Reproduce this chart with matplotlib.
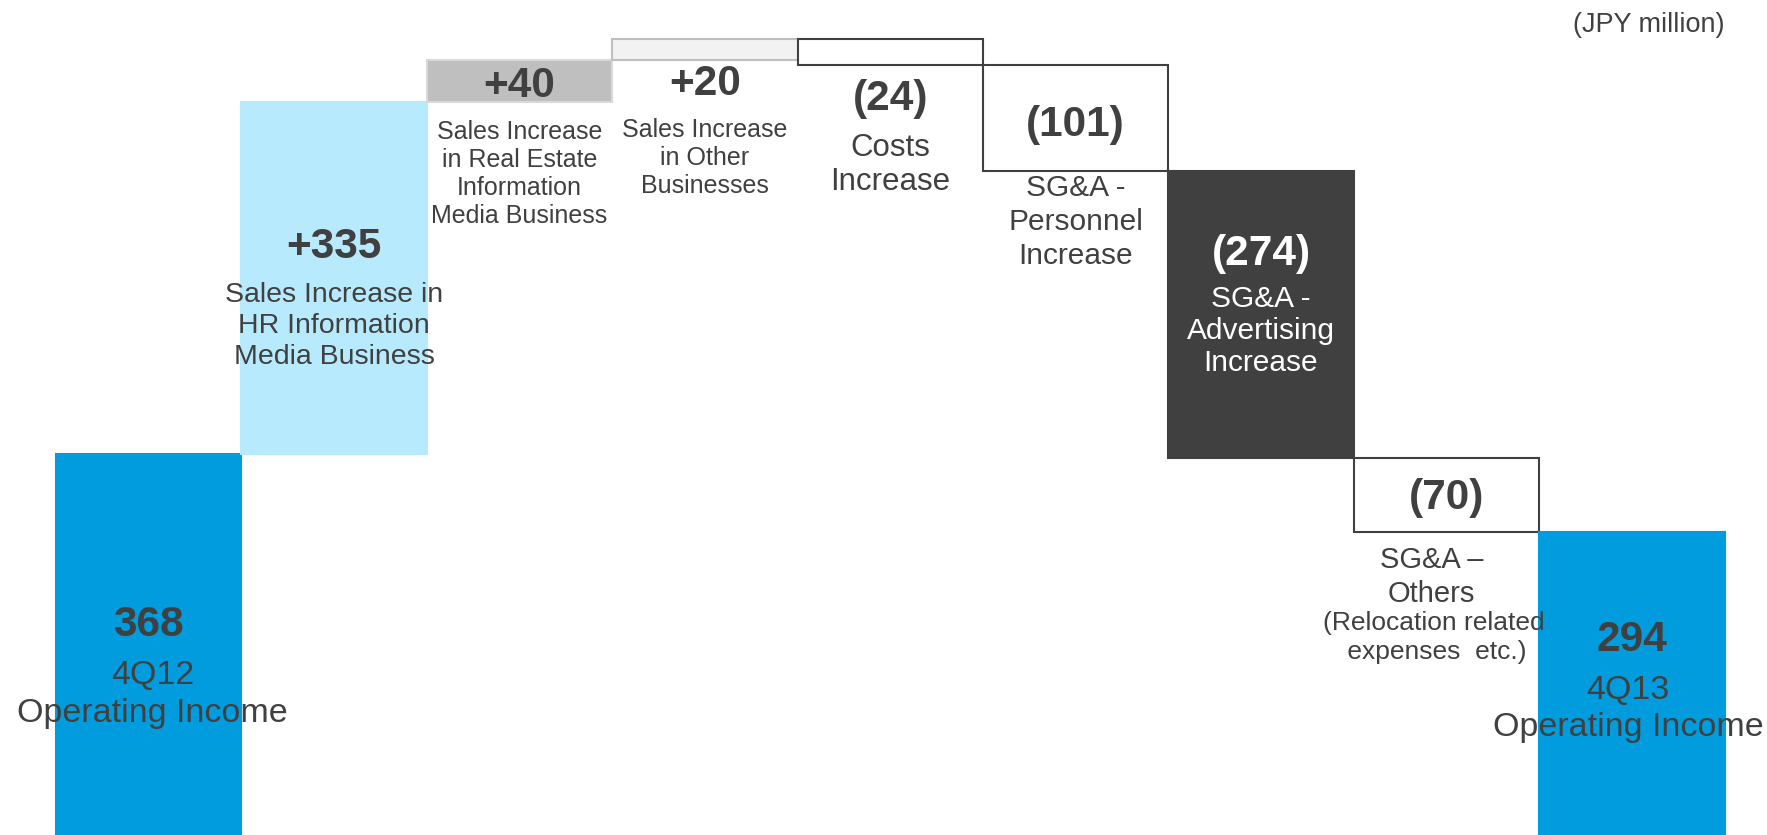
import matplotlib.pyplot as plt
import numpy as np

plt.rcParams['font.family'] = ['Liberation Sans', 'DejaVu Sans']

# operating income bridge, JPY million
start_value = 368
end_value = 294
deltas = [335, 40, 20, -24, -101, -274, -70]
categories = [
    "4Q12\nOperating Income",
    "Sales Increase in\nHR Information\nMedia Business",
    "Sales Increase\nin Real Estate\nInformation\nMedia Business",
    "Sales Increase\nin Other\nBusinesses",
    "Costs\nIncrease",
    "SG&A -\nPersonnel\nIncrease",
    "SG&A -\nAdvertising\nIncrease",
    "SG&A \u2013\nOthers",
    "4Q13\nOperating Income",
]
note_others = "(Relocation related\n expenses  etc.)"
unit_label = "(JPY million)"

# styling per bar
fills = ["#009CDE", "#B7EAFD", "#BFBFBF", "#F2F2F2", "white", "white",
         "#404040", "white", "#009CDE"]
edges = ["#009CDE", "#B7EAFD", "#D9D9D9", "#BFBFBF", "#404040", "#404040",
         "#404040", "#404040", "#009CDE"]
text_colors = ["#404040"] * 6 + ["white", "#404040", "#404040"]
label_sizes = [24.5, 20.5, 18, 18, 22.5, 21.5, 21.5, 21, 24.5]
# vertical placement of the texts (data units) and small x nudges
value_y = [205.5, 565.5, 719, 721, 706.5, 681.5, 558.5, 326.5, 190.5]
label_y = [139, 490, 635, 650, 643, 589, 485, 251, 125]
label_dx = [0.02, 0.0, 0.0, 0.0, 0.0, 0.0, 0.0, -0.08, -0.02]
spacing = [1.27, 1.25, 1.22, 1.22, 1.17, 1.28, 1.18, 1.25, 1.27]

# build the floating bars
running = np.cumsum([start_value] + deltas)
bottoms = [0]
heights = [start_value]
for i, d in enumerate(deltas):
    lo = min(running[i], running[i + 1])
    bottoms.append(lo)
    heights.append(abs(d))
bottoms.append(0)
heights.append(end_value)
x = np.arange(len(heights))

value_texts = [str(start_value)]
for d in deltas:
    value_texts.append(f"+{d}" if d > 0 else f"({abs(d)})")
value_texts.append(str(end_value))

fig = plt.figure(figsize=(17.67, 8.35), dpi=100)
ax = fig.add_axes([0, 0, 1, 1])
ax.bar(x, heights, bottom=bottoms, width=1.0, color=fills,
       edgecolor=edges, linewidth=1.5, zorder=2)
ax.set_xlim(-0.802, 8.729)
ax.set_ylim(5.05, 800.6)
ax.axis("off")

for i in range(len(x)):
    ax.text(x[i], value_y[i], value_texts[i], ha="center", va="center",
            fontsize=30.5, fontweight="bold", color=text_colors[i], zorder=3)
    ax.text(x[i] + label_dx[i], label_y[i], categories[i], ha="center",
            va="center", fontsize=label_sizes[i], color=text_colors[i],
            linespacing=spacing[i], zorder=3)

ax.text(7 - 0.07, 193, note_others, ha="center", va="center", fontsize=19,
        color="#404040", linespacing=1.25, zorder=3)

fig.text(0.976, 0.97, unit_label, ha="right", va="center", fontsize=19.5,
         color="#404040")

fig.savefig("out.png", dpi=100)
